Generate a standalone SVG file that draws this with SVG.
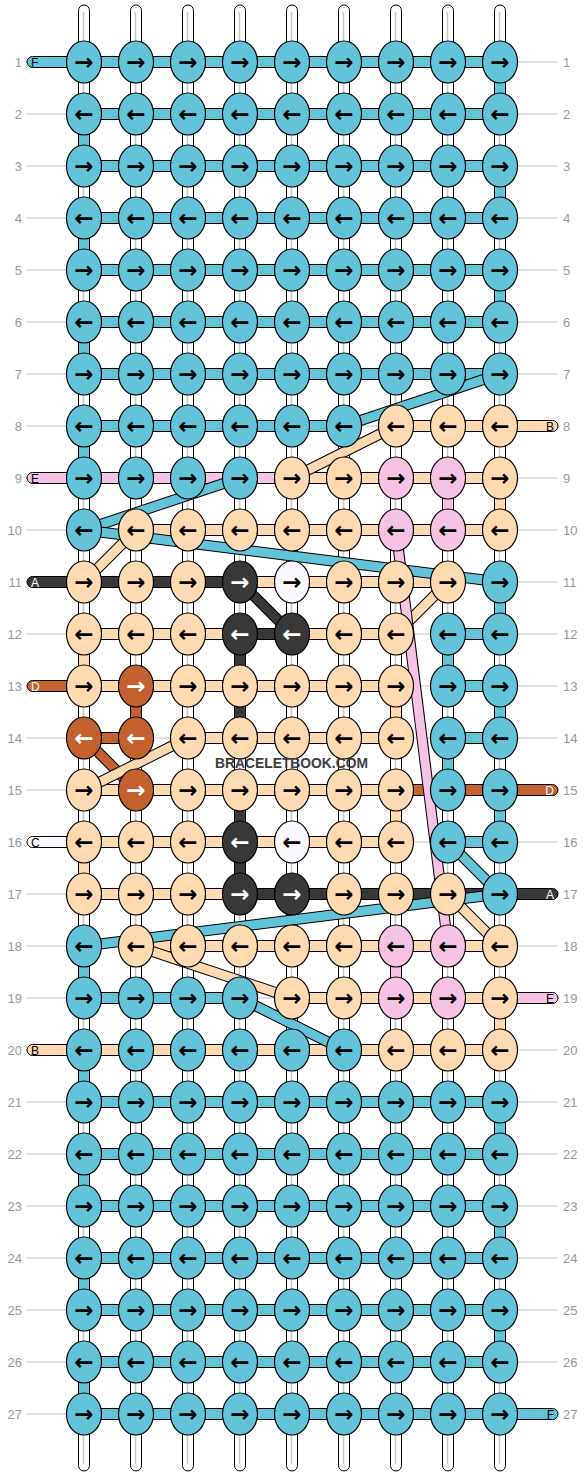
<svg xmlns="http://www.w3.org/2000/svg" width="584" height="1476" viewBox="0 0 584 1476">
<style>
.gl{stroke:#c4c4c4;stroke-width:1}
.st{fill:#fff;stroke:#000;stroke-width:1}
.sl{stroke:#c8c8c8;stroke-width:1.5}
.b{fill:#63C4D9}.p{fill:#FFDAB0}.k{fill:#F7C3E4}.d{fill:#383838}.r{fill:#C3612F}.w{fill:#FBF9FF}
.sg{stroke:#000;stroke-width:1}
ellipse{stroke:#000;stroke-width:1.2}
.ar{font-family:"DejaVu Sans",sans-serif;font-weight:bold;font-size:23px;text-anchor:middle;fill:#000}
.aw{fill:#fff}
.lb{font-family:"Liberation Sans",Arial,sans-serif;font-size:13px;fill:#999}
.le{text-anchor:end}
.lt{font-family:"Liberation Sans",Arial,sans-serif;font-size:12px;fill:#000}
.lw{fill:#fff}
.bo{stroke:#000;stroke-width:11;fill:none}
.sb{stroke:#63C4D9;stroke-width:9}.sp{stroke:#FFDAB0;stroke-width:9}.sk{stroke:#F7C3E4;stroke-width:9}.sd{stroke:#383838;stroke-width:9}.sr{stroke:#C3612F;stroke-width:9}
.wm{font-family:"Liberation Sans",Arial,sans-serif;font-weight:bold;font-size:15px;fill:#3d3d3d}
</style>
<g id="guides">
<line x1="26" y1="62" x2="558" y2="62" class="gl"/><line x1="26" y1="114" x2="558" y2="114" class="gl"/><line x1="26" y1="166" x2="558" y2="166" class="gl"/><line x1="26" y1="218" x2="558" y2="218" class="gl"/><line x1="26" y1="270" x2="558" y2="270" class="gl"/><line x1="26" y1="322" x2="558" y2="322" class="gl"/><line x1="26" y1="374" x2="558" y2="374" class="gl"/><line x1="26" y1="426" x2="558" y2="426" class="gl"/><line x1="26" y1="478" x2="558" y2="478" class="gl"/><line x1="26" y1="530" x2="558" y2="530" class="gl"/><line x1="26" y1="582" x2="558" y2="582" class="gl"/><line x1="26" y1="634" x2="558" y2="634" class="gl"/><line x1="26" y1="686" x2="558" y2="686" class="gl"/><line x1="26" y1="738" x2="558" y2="738" class="gl"/><line x1="26" y1="790" x2="558" y2="790" class="gl"/><line x1="26" y1="842" x2="558" y2="842" class="gl"/><line x1="26" y1="894" x2="558" y2="894" class="gl"/><line x1="26" y1="946" x2="558" y2="946" class="gl"/><line x1="26" y1="998" x2="558" y2="998" class="gl"/><line x1="26" y1="1050" x2="558" y2="1050" class="gl"/><line x1="26" y1="1102" x2="558" y2="1102" class="gl"/><line x1="26" y1="1154" x2="558" y2="1154" class="gl"/><line x1="26" y1="1206" x2="558" y2="1206" class="gl"/><line x1="26" y1="1258" x2="558" y2="1258" class="gl"/><line x1="26" y1="1310" x2="558" y2="1310" class="gl"/><line x1="26" y1="1362" x2="558" y2="1362" class="gl"/><line x1="26" y1="1414" x2="558" y2="1414" class="gl"/>
</g>
<g id="labels">
<text x="22" y="66.5" class="lb le">1</text><text x="22" y="118.5" class="lb le">2</text><text x="22" y="170.5" class="lb le">3</text><text x="22" y="222.5" class="lb le">4</text><text x="22" y="274.5" class="lb le">5</text><text x="22" y="326.5" class="lb le">6</text><text x="22" y="378.5" class="lb le">7</text><text x="22" y="430.5" class="lb le">8</text><text x="22" y="482.5" class="lb le">9</text><text x="22" y="534.5" class="lb le">10</text><text x="22" y="586.5" class="lb le">11</text><text x="22" y="638.5" class="lb le">12</text><text x="22" y="690.5" class="lb le">13</text><text x="22" y="742.5" class="lb le">14</text><text x="22" y="794.5" class="lb le">15</text><text x="22" y="846.5" class="lb le">16</text><text x="22" y="898.5" class="lb le">17</text><text x="22" y="950.5" class="lb le">18</text><text x="22" y="1002.5" class="lb le">19</text><text x="22" y="1054.5" class="lb le">20</text><text x="22" y="1106.5" class="lb le">21</text><text x="22" y="1158.5" class="lb le">22</text><text x="22" y="1210.5" class="lb le">23</text><text x="22" y="1262.5" class="lb le">24</text><text x="22" y="1314.5" class="lb le">25</text><text x="22" y="1366.5" class="lb le">26</text><text x="22" y="1418.5" class="lb le">27</text>
<text x="563" y="66.5" class="lb">1</text><text x="563" y="118.5" class="lb">2</text><text x="563" y="170.5" class="lb">3</text><text x="563" y="222.5" class="lb">4</text><text x="563" y="274.5" class="lb">5</text><text x="563" y="326.5" class="lb">6</text><text x="563" y="378.5" class="lb">7</text><text x="563" y="430.5" class="lb">8</text><text x="563" y="482.5" class="lb">9</text><text x="563" y="534.5" class="lb">10</text><text x="563" y="586.5" class="lb">11</text><text x="563" y="638.5" class="lb">12</text><text x="563" y="690.5" class="lb">13</text><text x="563" y="742.5" class="lb">14</text><text x="563" y="794.5" class="lb">15</text><text x="563" y="846.5" class="lb">16</text><text x="563" y="898.5" class="lb">17</text><text x="563" y="950.5" class="lb">18</text><text x="563" y="1002.5" class="lb">19</text><text x="563" y="1054.5" class="lb">20</text><text x="563" y="1106.5" class="lb">21</text><text x="563" y="1158.5" class="lb">22</text><text x="563" y="1210.5" class="lb">23</text><text x="563" y="1262.5" class="lb">24</text><text x="563" y="1314.5" class="lb">25</text><text x="563" y="1366.5" class="lb">26</text><text x="563" y="1418.5" class="lb">27</text>
</g>
<g id="connectors">
<g id="strands">
<rect x="78.5" y="5" width="11" height="1466" rx="5.5" class="st"/><rect x="130.5" y="5" width="11" height="1466" rx="5.5" class="st"/><rect x="182.5" y="5" width="11" height="1466" rx="5.5" class="st"/><rect x="234.5" y="5" width="11" height="1466" rx="5.5" class="st"/><rect x="286.5" y="5" width="11" height="1466" rx="5.5" class="st"/><rect x="338.5" y="5" width="11" height="1466" rx="5.5" class="st"/><rect x="390.5" y="5" width="11" height="1466" rx="5.5" class="st"/><rect x="442.5" y="5" width="11" height="1466" rx="5.5" class="st"/><rect x="494.5" y="5" width="11" height="1466" rx="5.5" class="st"/>
<line x1="83.5" y1="12" x2="83.5" y2="1464" class="sl"/><line x1="135.5" y1="12" x2="135.5" y2="1464" class="sl"/><line x1="187.5" y1="12" x2="187.5" y2="1464" class="sl"/><line x1="239.5" y1="12" x2="239.5" y2="1464" class="sl"/><line x1="291.5" y1="12" x2="291.5" y2="1464" class="sl"/><line x1="343.5" y1="12" x2="343.5" y2="1464" class="sl"/><line x1="395.5" y1="12" x2="395.5" y2="1464" class="sl"/><line x1="447.5" y1="12" x2="447.5" y2="1464" class="sl"/><line x1="499.5" y1="12" x2="499.5" y2="1464" class="sl"/>
</g>
<g id="verticals">
<rect x="494.5" y="62" width="11" height="52" class="b sg"/><rect x="494.5" y="166" width="11" height="52" class="b sg"/><rect x="494.5" y="270" width="11" height="52" class="b sg"/>
<rect x="78.5" y="114" width="11" height="52" class="b sg"/><rect x="78.5" y="218" width="11" height="52" class="b sg"/><rect x="78.5" y="322" width="11" height="52" class="b sg"/><rect x="78.5" y="426" width="11" height="52" class="b sg"/>
<rect x="494.5" y="582" width="11" height="52" class="b sg"/><rect x="442.5" y="634" width="11" height="52" class="b sg"/><rect x="494.5" y="686" width="11" height="52" class="b sg"/><rect x="442.5" y="738" width="11" height="52" class="b sg"/><rect x="494.5" y="790" width="11" height="52" class="b sg"/>
<rect x="78.5" y="946" width="11" height="52" class="b sg"/><rect x="78.5" y="1050" width="11" height="52" class="b sg"/>
<rect x="494.5" y="1102" width="11" height="52" class="b sg"/><rect x="78.5" y="1154" width="11" height="52" class="b sg"/><rect x="494.5" y="1206" width="11" height="52" class="b sg"/><rect x="78.5" y="1258" width="11" height="52" class="b sg"/><rect x="494.5" y="1310" width="11" height="52" class="b sg"/><rect x="78.5" y="1362" width="11" height="52" class="b sg"/>
<rect x="494.5" y="478" width="11" height="52" class="p sg"/><rect x="78.5" y="634" width="11" height="52" class="p sg"/><rect x="390.5" y="686" width="11" height="52" class="p sg"/><rect x="390.5" y="790" width="11" height="52" class="p sg"/><rect x="78.5" y="842" width="11" height="52" class="p sg"/><rect x="494.5" y="998" width="11" height="52" class="p sg"/>
<rect x="442.5" y="478" width="11" height="52" class="k sg"/><rect x="390.5" y="946" width="11" height="52" class="k sg"/>
<rect x="234.5" y="634" width="11" height="52" class="d sg"/><rect x="234.5" y="686" width="11" height="52" class="d sg"/><rect x="234.5" y="790" width="11" height="52" class="d sg"/><rect x="234.5" y="842" width="11" height="52" class="d sg"/>
<rect x="130.5" y="686" width="11" height="52" class="r sg"/>
</g>
<g id="horizontals">
<rect x="27" y="56.5" width="70" height="11" rx="5.5" class="b sg"/>
<rect x="84" y="56.5" width="52" height="11" class="b sg"/><rect x="136" y="56.5" width="52" height="11" class="b sg"/><rect x="188" y="56.5" width="52" height="11" class="b sg"/><rect x="240" y="56.5" width="52" height="11" class="b sg"/><rect x="292" y="56.5" width="52" height="11" class="b sg"/><rect x="344" y="56.5" width="52" height="11" class="b sg"/><rect x="396" y="56.5" width="52" height="11" class="b sg"/><rect x="448" y="56.5" width="52" height="11" class="b sg"/>
<rect x="84" y="108.5" width="52" height="11" class="b sg"/><rect x="136" y="108.5" width="52" height="11" class="b sg"/><rect x="188" y="108.5" width="52" height="11" class="b sg"/><rect x="240" y="108.5" width="52" height="11" class="b sg"/><rect x="292" y="108.5" width="52" height="11" class="b sg"/><rect x="344" y="108.5" width="52" height="11" class="b sg"/><rect x="396" y="108.5" width="52" height="11" class="b sg"/><rect x="448" y="108.5" width="52" height="11" class="b sg"/>
<rect x="84" y="160.5" width="52" height="11" class="b sg"/><rect x="136" y="160.5" width="52" height="11" class="b sg"/><rect x="188" y="160.5" width="52" height="11" class="b sg"/><rect x="240" y="160.5" width="52" height="11" class="b sg"/><rect x="292" y="160.5" width="52" height="11" class="b sg"/><rect x="344" y="160.5" width="52" height="11" class="b sg"/><rect x="396" y="160.5" width="52" height="11" class="b sg"/><rect x="448" y="160.5" width="52" height="11" class="b sg"/>
<rect x="84" y="212.5" width="52" height="11" class="b sg"/><rect x="136" y="212.5" width="52" height="11" class="b sg"/><rect x="188" y="212.5" width="52" height="11" class="b sg"/><rect x="240" y="212.5" width="52" height="11" class="b sg"/><rect x="292" y="212.5" width="52" height="11" class="b sg"/><rect x="344" y="212.5" width="52" height="11" class="b sg"/><rect x="396" y="212.5" width="52" height="11" class="b sg"/><rect x="448" y="212.5" width="52" height="11" class="b sg"/>
<rect x="84" y="264.5" width="52" height="11" class="b sg"/><rect x="136" y="264.5" width="52" height="11" class="b sg"/><rect x="188" y="264.5" width="52" height="11" class="b sg"/><rect x="240" y="264.5" width="52" height="11" class="b sg"/><rect x="292" y="264.5" width="52" height="11" class="b sg"/><rect x="344" y="264.5" width="52" height="11" class="b sg"/><rect x="396" y="264.5" width="52" height="11" class="b sg"/><rect x="448" y="264.5" width="52" height="11" class="b sg"/>
<rect x="84" y="316.5" width="52" height="11" class="b sg"/><rect x="136" y="316.5" width="52" height="11" class="b sg"/><rect x="188" y="316.5" width="52" height="11" class="b sg"/><rect x="240" y="316.5" width="52" height="11" class="b sg"/><rect x="292" y="316.5" width="52" height="11" class="b sg"/><rect x="344" y="316.5" width="52" height="11" class="b sg"/><rect x="396" y="316.5" width="52" height="11" class="b sg"/><rect x="448" y="316.5" width="52" height="11" class="b sg"/>
<rect x="84" y="368.5" width="52" height="11" class="b sg"/><rect x="136" y="368.5" width="52" height="11" class="b sg"/><rect x="188" y="368.5" width="52" height="11" class="b sg"/><rect x="240" y="368.5" width="52" height="11" class="b sg"/><rect x="292" y="368.5" width="52" height="11" class="b sg"/><rect x="344" y="368.5" width="52" height="11" class="b sg"/><rect x="396" y="368.5" width="52" height="11" class="b sg"/><rect x="448" y="368.5" width="52" height="11" class="b sg"/>
<rect x="84" y="420.5" width="52" height="11" class="b sg"/><rect x="136" y="420.5" width="52" height="11" class="b sg"/><rect x="188" y="420.5" width="52" height="11" class="b sg"/><rect x="240" y="420.5" width="52" height="11" class="b sg"/><rect x="292" y="420.5" width="52" height="11" class="b sg"/><rect x="396" y="420.5" width="52" height="11" class="p sg"/><rect x="448" y="420.5" width="52" height="11" class="p sg"/><rect x="487" y="420.5" width="71" height="11" rx="5.5" class="p sg"/>
<rect x="27" y="472.5" width="70" height="11" rx="5.5" class="k sg"/><rect x="84" y="472.5" width="52" height="11" class="k sg"/><rect x="136" y="472.5" width="52" height="11" class="k sg"/><rect x="188" y="472.5" width="52" height="11" class="k sg"/><rect x="240" y="472.5" width="52" height="11" class="k sg"/><rect x="292" y="472.5" width="52" height="11" class="p sg"/><rect x="344" y="472.5" width="52" height="11" class="p sg"/><rect x="396" y="472.5" width="52" height="11" class="p sg"/><rect x="448" y="472.5" width="52" height="11" class="p sg"/>
<rect x="136" y="524.5" width="52" height="11" class="p sg"/><rect x="188" y="524.5" width="52" height="11" class="p sg"/><rect x="240" y="524.5" width="52" height="11" class="p sg"/><rect x="292" y="524.5" width="52" height="11" class="p sg"/><rect x="344" y="524.5" width="52" height="11" class="p sg"/><rect x="396" y="524.5" width="52" height="11" class="p sg"/><rect x="448" y="524.5" width="52" height="11" class="p sg"/>
<rect x="27" y="576.5" width="70" height="11" rx="5.5" class="d sg"/><rect x="84" y="576.5" width="52" height="11" class="d sg"/><rect x="136" y="576.5" width="52" height="11" class="d sg"/><rect x="188" y="576.5" width="52" height="11" class="d sg"/><rect x="240" y="576.5" width="52" height="11" class="p sg"/><rect x="292" y="576.5" width="52" height="11" class="p sg"/><rect x="344" y="576.5" width="52" height="11" class="p sg"/><rect x="396" y="576.5" width="52" height="11" class="p sg"/>
<rect x="84" y="628.5" width="52" height="11" class="p sg"/><rect x="136" y="628.5" width="52" height="11" class="p sg"/><rect x="188" y="628.5" width="52" height="11" class="p sg"/><rect x="240" y="628.5" width="52" height="11" class="d sg"/><rect x="292" y="628.5" width="52" height="11" class="p sg"/><rect x="344" y="628.5" width="52" height="11" class="p sg"/><rect x="448" y="628.5" width="52" height="11" class="b sg"/>
<rect x="27" y="680.5" width="70" height="11" rx="5.5" class="r sg"/><rect x="84" y="680.5" width="52" height="11" class="p sg"/><rect x="136" y="680.5" width="52" height="11" class="p sg"/><rect x="188" y="680.5" width="52" height="11" class="p sg"/><rect x="240" y="680.5" width="52" height="11" class="p sg"/><rect x="292" y="680.5" width="52" height="11" class="p sg"/><rect x="344" y="680.5" width="52" height="11" class="p sg"/><rect x="448" y="680.5" width="52" height="11" class="b sg"/>
<rect x="84" y="732.5" width="52" height="11" class="r sg"/><rect x="188" y="732.5" width="52" height="11" class="p sg"/><rect x="240" y="732.5" width="52" height="11" class="p sg"/><rect x="292" y="732.5" width="52" height="11" class="p sg"/><rect x="344" y="732.5" width="52" height="11" class="p sg"/><rect x="448" y="732.5" width="52" height="11" class="b sg"/>
<rect x="84" y="784.5" width="52" height="11" class="p sg"/><rect x="136" y="784.5" width="52" height="11" class="p sg"/><rect x="188" y="784.5" width="52" height="11" class="p sg"/><rect x="240" y="784.5" width="52" height="11" class="p sg"/><rect x="292" y="784.5" width="52" height="11" class="p sg"/><rect x="344" y="784.5" width="52" height="11" class="p sg"/><rect x="396" y="784.5" width="52" height="11" class="r sg"/><rect x="448" y="784.5" width="52" height="11" class="r sg"/><rect x="487" y="784.5" width="71" height="11" rx="5.5" class="r sg"/>
<rect x="27" y="836.5" width="70" height="11" rx="5.5" class="w sg"/><rect x="84" y="836.5" width="52" height="11" class="p sg"/><rect x="136" y="836.5" width="52" height="11" class="p sg"/><rect x="188" y="836.5" width="52" height="11" class="p sg"/><rect x="240" y="836.5" width="52" height="11" class="p sg"/><rect x="292" y="836.5" width="52" height="11" class="p sg"/><rect x="344" y="836.5" width="52" height="11" class="p sg"/><rect x="448" y="836.5" width="52" height="11" class="b sg"/>
<rect x="84" y="888.5" width="52" height="11" class="p sg"/><rect x="136" y="888.5" width="52" height="11" class="p sg"/><rect x="188" y="888.5" width="52" height="11" class="p sg"/><rect x="240" y="888.5" width="52" height="11" class="d sg"/><rect x="292" y="888.5" width="52" height="11" class="d sg"/><rect x="344" y="888.5" width="52" height="11" class="d sg"/><rect x="396" y="888.5" width="52" height="11" class="d sg"/><rect x="448" y="888.5" width="52" height="11" class="d sg"/><rect x="487" y="888.5" width="71" height="11" rx="5.5" class="d sg"/>
<rect x="136" y="940.5" width="52" height="11" class="p sg"/><rect x="188" y="940.5" width="52" height="11" class="p sg"/><rect x="240" y="940.5" width="52" height="11" class="p sg"/><rect x="292" y="940.5" width="52" height="11" class="p sg"/><rect x="344" y="940.5" width="52" height="11" class="p sg"/><rect x="396" y="940.5" width="52" height="11" class="p sg"/><rect x="448" y="940.5" width="52" height="11" class="p sg"/>
<rect x="84" y="992.5" width="52" height="11" class="b sg"/><rect x="136" y="992.5" width="52" height="11" class="b sg"/><rect x="188" y="992.5" width="52" height="11" class="b sg"/><rect x="292" y="992.5" width="52" height="11" class="p sg"/><rect x="344" y="992.5" width="52" height="11" class="p sg"/><rect x="396" y="992.5" width="52" height="11" class="p sg"/><rect x="448" y="992.5" width="52" height="11" class="p sg"/><rect x="487" y="992.5" width="71" height="11" rx="5.5" class="k sg"/>
<rect x="27" y="1044.5" width="70" height="11" rx="5.5" class="p sg"/><rect x="84" y="1044.5" width="52" height="11" class="p sg"/><rect x="136" y="1044.5" width="52" height="11" class="p sg"/><rect x="188" y="1044.5" width="52" height="11" class="p sg"/><rect x="240" y="1044.5" width="52" height="11" class="p sg"/><rect x="292" y="1044.5" width="52" height="11" class="p sg"/><rect x="344" y="1044.5" width="52" height="11" class="p sg"/><rect x="396" y="1044.5" width="52" height="11" class="p sg"/><rect x="448" y="1044.5" width="52" height="11" class="p sg"/>
<rect x="84" y="1096.5" width="52" height="11" class="b sg"/><rect x="136" y="1096.5" width="52" height="11" class="b sg"/><rect x="188" y="1096.5" width="52" height="11" class="b sg"/><rect x="240" y="1096.5" width="52" height="11" class="b sg"/><rect x="292" y="1096.5" width="52" height="11" class="b sg"/><rect x="344" y="1096.5" width="52" height="11" class="b sg"/><rect x="396" y="1096.5" width="52" height="11" class="b sg"/><rect x="448" y="1096.5" width="52" height="11" class="b sg"/>
<rect x="84" y="1148.5" width="52" height="11" class="b sg"/><rect x="136" y="1148.5" width="52" height="11" class="b sg"/><rect x="188" y="1148.5" width="52" height="11" class="b sg"/><rect x="240" y="1148.5" width="52" height="11" class="b sg"/><rect x="292" y="1148.5" width="52" height="11" class="b sg"/><rect x="344" y="1148.5" width="52" height="11" class="b sg"/><rect x="396" y="1148.5" width="52" height="11" class="b sg"/><rect x="448" y="1148.5" width="52" height="11" class="b sg"/>
<rect x="84" y="1200.5" width="52" height="11" class="b sg"/><rect x="136" y="1200.5" width="52" height="11" class="b sg"/><rect x="188" y="1200.5" width="52" height="11" class="b sg"/><rect x="240" y="1200.5" width="52" height="11" class="b sg"/><rect x="292" y="1200.5" width="52" height="11" class="b sg"/><rect x="344" y="1200.5" width="52" height="11" class="b sg"/><rect x="396" y="1200.5" width="52" height="11" class="b sg"/><rect x="448" y="1200.5" width="52" height="11" class="b sg"/>
<rect x="84" y="1252.5" width="52" height="11" class="b sg"/><rect x="136" y="1252.5" width="52" height="11" class="b sg"/><rect x="188" y="1252.5" width="52" height="11" class="b sg"/><rect x="240" y="1252.5" width="52" height="11" class="b sg"/><rect x="292" y="1252.5" width="52" height="11" class="b sg"/><rect x="344" y="1252.5" width="52" height="11" class="b sg"/><rect x="396" y="1252.5" width="52" height="11" class="b sg"/><rect x="448" y="1252.5" width="52" height="11" class="b sg"/>
<rect x="84" y="1304.5" width="52" height="11" class="b sg"/><rect x="136" y="1304.5" width="52" height="11" class="b sg"/><rect x="188" y="1304.5" width="52" height="11" class="b sg"/><rect x="240" y="1304.5" width="52" height="11" class="b sg"/><rect x="292" y="1304.5" width="52" height="11" class="b sg"/><rect x="344" y="1304.5" width="52" height="11" class="b sg"/><rect x="396" y="1304.5" width="52" height="11" class="b sg"/><rect x="448" y="1304.5" width="52" height="11" class="b sg"/>
<rect x="84" y="1356.5" width="52" height="11" class="b sg"/><rect x="136" y="1356.5" width="52" height="11" class="b sg"/><rect x="188" y="1356.5" width="52" height="11" class="b sg"/><rect x="240" y="1356.5" width="52" height="11" class="b sg"/><rect x="292" y="1356.5" width="52" height="11" class="b sg"/><rect x="344" y="1356.5" width="52" height="11" class="b sg"/><rect x="396" y="1356.5" width="52" height="11" class="b sg"/><rect x="448" y="1356.5" width="52" height="11" class="b sg"/>
<rect x="84" y="1408.5" width="52" height="11" class="b sg"/><rect x="136" y="1408.5" width="52" height="11" class="b sg"/><rect x="188" y="1408.5" width="52" height="11" class="b sg"/><rect x="240" y="1408.5" width="52" height="11" class="b sg"/><rect x="292" y="1408.5" width="52" height="11" class="b sg"/><rect x="344" y="1408.5" width="52" height="11" class="b sg"/><rect x="396" y="1408.5" width="52" height="11" class="b sg"/><rect x="448" y="1408.5" width="52" height="11" class="b sg"/><rect x="487" y="1408.5" width="71" height="11" rx="5.5" class="b sg"/>
</g>
<g id="diagonals">
<line x1="500" y1="374" x2="344" y2="426" class="bo"/><line x1="500" y1="374" x2="344" y2="426" class="sb"/>
<line x1="396" y1="426" x2="292" y2="478" class="bo"/><line x1="396" y1="426" x2="292" y2="478" class="sp"/>
<line x1="240" y1="478" x2="84" y2="530" class="bo"/><line x1="240" y1="478" x2="84" y2="530" class="sb"/>
<line x1="136" y1="530" x2="84" y2="582" class="bo"/><line x1="136" y1="530" x2="84" y2="582" class="sp"/>
<line x1="84" y1="530" x2="500" y2="582" class="bo"/><line x1="84" y1="530" x2="500" y2="582" class="sb"/>
<line x1="448" y1="582" x2="396" y2="634" class="bo"/><line x1="448" y1="582" x2="396" y2="634" class="sp"/>
<line x1="240" y1="582" x2="292" y2="634" class="bo"/><line x1="240" y1="582" x2="292" y2="634" class="sd"/>
<line x1="84" y1="738" x2="136" y2="790" class="bo"/><line x1="84" y1="738" x2="136" y2="790" class="sr"/>
<line x1="188" y1="738" x2="84" y2="790" class="bo"/><line x1="188" y1="738" x2="84" y2="790" class="sp"/>
<line x1="448" y1="842" x2="500" y2="894" class="bo"/><line x1="448" y1="842" x2="500" y2="894" class="sb"/>
<line x1="448" y1="894" x2="500" y2="946" class="bo"/><line x1="448" y1="894" x2="500" y2="946" class="sp"/>
<line x1="500" y1="894" x2="84" y2="946" class="bo"/><line x1="500" y1="894" x2="84" y2="946" class="sb"/>
<line x1="396" y1="530" x2="448" y2="946" class="bo"/><line x1="396" y1="530" x2="448" y2="946" class="sk"/>
<line x1="136" y1="946" x2="292" y2="998" class="bo"/><line x1="136" y1="946" x2="292" y2="998" class="sp"/>
<line x1="240" y1="998" x2="344" y2="1050" class="bo"/><line x1="240" y1="998" x2="344" y2="1050" class="sb"/>
</g>
</g>
<g id="ends">
<text x="31" y="66.5" class="lt">F</text><text x="31" y="482.5" class="lt">E</text><text x="31" y="586.5" class="lt lw">A</text><text x="31" y="690.5" class="lt lw">D</text><text x="31" y="846.5" class="lt">C</text><text x="31" y="1054.5" class="lt">B</text>
<text x="554" y="430.5" class="lt le">B</text><text x="554" y="794.5" class="lt le lw">D</text><text x="554" y="898.5" class="lt le lw">A</text><text x="554" y="1002.5" class="lt le">E</text><text x="554" y="1418.5" class="lt le">F</text>
</g>
<g id="nodes">
<g id="n1-1"><ellipse cx="84" cy="62" rx="17.5" ry="21" class="b"/><text x="84" y="70" class="ar">→</text></g>
<g id="n1-2"><ellipse cx="136" cy="62" rx="17.5" ry="21" class="b"/><text x="136" y="70" class="ar">→</text></g>
<g id="n1-3"><ellipse cx="188" cy="62" rx="17.5" ry="21" class="b"/><text x="188" y="70" class="ar">→</text></g>
<g id="n1-4"><ellipse cx="240" cy="62" rx="17.5" ry="21" class="b"/><text x="240" y="70" class="ar">→</text></g>
<g id="n1-5"><ellipse cx="292" cy="62" rx="17.5" ry="21" class="b"/><text x="292" y="70" class="ar">→</text></g>
<g id="n1-6"><ellipse cx="344" cy="62" rx="17.5" ry="21" class="b"/><text x="344" y="70" class="ar">→</text></g>
<g id="n1-7"><ellipse cx="396" cy="62" rx="17.5" ry="21" class="b"/><text x="396" y="70" class="ar">→</text></g>
<g id="n1-8"><ellipse cx="448" cy="62" rx="17.5" ry="21" class="b"/><text x="448" y="70" class="ar">→</text></g>
<g id="n1-9"><ellipse cx="500" cy="62" rx="17.5" ry="21" class="b"/><text x="500" y="70" class="ar">→</text></g>
<g id="n2-1"><ellipse cx="84" cy="114" rx="17.5" ry="21" class="b"/><text x="84" y="122" class="ar">←</text></g>
<g id="n2-2"><ellipse cx="136" cy="114" rx="17.5" ry="21" class="b"/><text x="136" y="122" class="ar">←</text></g>
<g id="n2-3"><ellipse cx="188" cy="114" rx="17.5" ry="21" class="b"/><text x="188" y="122" class="ar">←</text></g>
<g id="n2-4"><ellipse cx="240" cy="114" rx="17.5" ry="21" class="b"/><text x="240" y="122" class="ar">←</text></g>
<g id="n2-5"><ellipse cx="292" cy="114" rx="17.5" ry="21" class="b"/><text x="292" y="122" class="ar">←</text></g>
<g id="n2-6"><ellipse cx="344" cy="114" rx="17.5" ry="21" class="b"/><text x="344" y="122" class="ar">←</text></g>
<g id="n2-7"><ellipse cx="396" cy="114" rx="17.5" ry="21" class="b"/><text x="396" y="122" class="ar">←</text></g>
<g id="n2-8"><ellipse cx="448" cy="114" rx="17.5" ry="21" class="b"/><text x="448" y="122" class="ar">←</text></g>
<g id="n2-9"><ellipse cx="500" cy="114" rx="17.5" ry="21" class="b"/><text x="500" y="122" class="ar">←</text></g>
<g id="n3-1"><ellipse cx="84" cy="166" rx="17.5" ry="21" class="b"/><text x="84" y="174" class="ar">→</text></g>
<g id="n3-2"><ellipse cx="136" cy="166" rx="17.5" ry="21" class="b"/><text x="136" y="174" class="ar">→</text></g>
<g id="n3-3"><ellipse cx="188" cy="166" rx="17.5" ry="21" class="b"/><text x="188" y="174" class="ar">→</text></g>
<g id="n3-4"><ellipse cx="240" cy="166" rx="17.5" ry="21" class="b"/><text x="240" y="174" class="ar">→</text></g>
<g id="n3-5"><ellipse cx="292" cy="166" rx="17.5" ry="21" class="b"/><text x="292" y="174" class="ar">→</text></g>
<g id="n3-6"><ellipse cx="344" cy="166" rx="17.5" ry="21" class="b"/><text x="344" y="174" class="ar">→</text></g>
<g id="n3-7"><ellipse cx="396" cy="166" rx="17.5" ry="21" class="b"/><text x="396" y="174" class="ar">→</text></g>
<g id="n3-8"><ellipse cx="448" cy="166" rx="17.5" ry="21" class="b"/><text x="448" y="174" class="ar">→</text></g>
<g id="n3-9"><ellipse cx="500" cy="166" rx="17.5" ry="21" class="b"/><text x="500" y="174" class="ar">→</text></g>
<g id="n4-1"><ellipse cx="84" cy="218" rx="17.5" ry="21" class="b"/><text x="84" y="226" class="ar">←</text></g>
<g id="n4-2"><ellipse cx="136" cy="218" rx="17.5" ry="21" class="b"/><text x="136" y="226" class="ar">←</text></g>
<g id="n4-3"><ellipse cx="188" cy="218" rx="17.5" ry="21" class="b"/><text x="188" y="226" class="ar">←</text></g>
<g id="n4-4"><ellipse cx="240" cy="218" rx="17.5" ry="21" class="b"/><text x="240" y="226" class="ar">←</text></g>
<g id="n4-5"><ellipse cx="292" cy="218" rx="17.5" ry="21" class="b"/><text x="292" y="226" class="ar">←</text></g>
<g id="n4-6"><ellipse cx="344" cy="218" rx="17.5" ry="21" class="b"/><text x="344" y="226" class="ar">←</text></g>
<g id="n4-7"><ellipse cx="396" cy="218" rx="17.5" ry="21" class="b"/><text x="396" y="226" class="ar">←</text></g>
<g id="n4-8"><ellipse cx="448" cy="218" rx="17.5" ry="21" class="b"/><text x="448" y="226" class="ar">←</text></g>
<g id="n4-9"><ellipse cx="500" cy="218" rx="17.5" ry="21" class="b"/><text x="500" y="226" class="ar">←</text></g>
<g id="n5-1"><ellipse cx="84" cy="270" rx="17.5" ry="21" class="b"/><text x="84" y="278" class="ar">→</text></g>
<g id="n5-2"><ellipse cx="136" cy="270" rx="17.5" ry="21" class="b"/><text x="136" y="278" class="ar">→</text></g>
<g id="n5-3"><ellipse cx="188" cy="270" rx="17.5" ry="21" class="b"/><text x="188" y="278" class="ar">→</text></g>
<g id="n5-4"><ellipse cx="240" cy="270" rx="17.5" ry="21" class="b"/><text x="240" y="278" class="ar">→</text></g>
<g id="n5-5"><ellipse cx="292" cy="270" rx="17.5" ry="21" class="b"/><text x="292" y="278" class="ar">→</text></g>
<g id="n5-6"><ellipse cx="344" cy="270" rx="17.5" ry="21" class="b"/><text x="344" y="278" class="ar">→</text></g>
<g id="n5-7"><ellipse cx="396" cy="270" rx="17.5" ry="21" class="b"/><text x="396" y="278" class="ar">→</text></g>
<g id="n5-8"><ellipse cx="448" cy="270" rx="17.5" ry="21" class="b"/><text x="448" y="278" class="ar">→</text></g>
<g id="n5-9"><ellipse cx="500" cy="270" rx="17.5" ry="21" class="b"/><text x="500" y="278" class="ar">→</text></g>
<g id="n6-1"><ellipse cx="84" cy="322" rx="17.5" ry="21" class="b"/><text x="84" y="330" class="ar">←</text></g>
<g id="n6-2"><ellipse cx="136" cy="322" rx="17.5" ry="21" class="b"/><text x="136" y="330" class="ar">←</text></g>
<g id="n6-3"><ellipse cx="188" cy="322" rx="17.5" ry="21" class="b"/><text x="188" y="330" class="ar">←</text></g>
<g id="n6-4"><ellipse cx="240" cy="322" rx="17.5" ry="21" class="b"/><text x="240" y="330" class="ar">←</text></g>
<g id="n6-5"><ellipse cx="292" cy="322" rx="17.5" ry="21" class="b"/><text x="292" y="330" class="ar">←</text></g>
<g id="n6-6"><ellipse cx="344" cy="322" rx="17.5" ry="21" class="b"/><text x="344" y="330" class="ar">←</text></g>
<g id="n6-7"><ellipse cx="396" cy="322" rx="17.5" ry="21" class="b"/><text x="396" y="330" class="ar">←</text></g>
<g id="n6-8"><ellipse cx="448" cy="322" rx="17.5" ry="21" class="b"/><text x="448" y="330" class="ar">←</text></g>
<g id="n6-9"><ellipse cx="500" cy="322" rx="17.5" ry="21" class="b"/><text x="500" y="330" class="ar">←</text></g>
<g id="n7-1"><ellipse cx="84" cy="374" rx="17.5" ry="21" class="b"/><text x="84" y="382" class="ar">→</text></g>
<g id="n7-2"><ellipse cx="136" cy="374" rx="17.5" ry="21" class="b"/><text x="136" y="382" class="ar">→</text></g>
<g id="n7-3"><ellipse cx="188" cy="374" rx="17.5" ry="21" class="b"/><text x="188" y="382" class="ar">→</text></g>
<g id="n7-4"><ellipse cx="240" cy="374" rx="17.5" ry="21" class="b"/><text x="240" y="382" class="ar">→</text></g>
<g id="n7-5"><ellipse cx="292" cy="374" rx="17.5" ry="21" class="b"/><text x="292" y="382" class="ar">→</text></g>
<g id="n7-6"><ellipse cx="344" cy="374" rx="17.5" ry="21" class="b"/><text x="344" y="382" class="ar">→</text></g>
<g id="n7-7"><ellipse cx="396" cy="374" rx="17.5" ry="21" class="b"/><text x="396" y="382" class="ar">→</text></g>
<g id="n7-8"><ellipse cx="448" cy="374" rx="17.5" ry="21" class="b"/><text x="448" y="382" class="ar">→</text></g>
<g id="n7-9"><ellipse cx="500" cy="374" rx="17.5" ry="21" class="b"/><text x="500" y="382" class="ar">→</text></g>
<g id="n8-1"><ellipse cx="84" cy="426" rx="17.5" ry="21" class="b"/><text x="84" y="434" class="ar">←</text></g>
<g id="n8-2"><ellipse cx="136" cy="426" rx="17.5" ry="21" class="b"/><text x="136" y="434" class="ar">←</text></g>
<g id="n8-3"><ellipse cx="188" cy="426" rx="17.5" ry="21" class="b"/><text x="188" y="434" class="ar">←</text></g>
<g id="n8-4"><ellipse cx="240" cy="426" rx="17.5" ry="21" class="b"/><text x="240" y="434" class="ar">←</text></g>
<g id="n8-5"><ellipse cx="292" cy="426" rx="17.5" ry="21" class="b"/><text x="292" y="434" class="ar">←</text></g>
<g id="n8-6"><ellipse cx="344" cy="426" rx="17.5" ry="21" class="b"/><text x="344" y="434" class="ar">←</text></g>
<g id="n8-7"><ellipse cx="396" cy="426" rx="17.5" ry="21" class="p"/><text x="396" y="434" class="ar">←</text></g>
<g id="n8-8"><ellipse cx="448" cy="426" rx="17.5" ry="21" class="p"/><text x="448" y="434" class="ar">←</text></g>
<g id="n8-9"><ellipse cx="500" cy="426" rx="17.5" ry="21" class="p"/><text x="500" y="434" class="ar">←</text></g>
<g id="n9-1"><ellipse cx="84" cy="478" rx="17.5" ry="21" class="b"/><text x="84" y="486" class="ar">→</text></g>
<g id="n9-2"><ellipse cx="136" cy="478" rx="17.5" ry="21" class="b"/><text x="136" y="486" class="ar">→</text></g>
<g id="n9-3"><ellipse cx="188" cy="478" rx="17.5" ry="21" class="b"/><text x="188" y="486" class="ar">→</text></g>
<g id="n9-4"><ellipse cx="240" cy="478" rx="17.5" ry="21" class="b"/><text x="240" y="486" class="ar">→</text></g>
<g id="n9-5"><ellipse cx="292" cy="478" rx="17.5" ry="21" class="p"/><text x="292" y="486" class="ar">→</text></g>
<g id="n9-6"><ellipse cx="344" cy="478" rx="17.5" ry="21" class="p"/><text x="344" y="486" class="ar">→</text></g>
<g id="n9-7"><ellipse cx="396" cy="478" rx="17.5" ry="21" class="k"/><text x="396" y="486" class="ar">→</text></g>
<g id="n9-8"><ellipse cx="448" cy="478" rx="17.5" ry="21" class="k"/><text x="448" y="486" class="ar">→</text></g>
<g id="n9-9"><ellipse cx="500" cy="478" rx="17.5" ry="21" class="p"/><text x="500" y="486" class="ar">→</text></g>
<g id="n10-1"><ellipse cx="84" cy="530" rx="17.5" ry="21" class="b"/><text x="84" y="538" class="ar">←</text></g>
<g id="n10-2"><ellipse cx="136" cy="530" rx="17.5" ry="21" class="p"/><text x="136" y="538" class="ar">←</text></g>
<g id="n10-3"><ellipse cx="188" cy="530" rx="17.5" ry="21" class="p"/><text x="188" y="538" class="ar">←</text></g>
<g id="n10-4"><ellipse cx="240" cy="530" rx="17.5" ry="21" class="p"/><text x="240" y="538" class="ar">←</text></g>
<g id="n10-5"><ellipse cx="292" cy="530" rx="17.5" ry="21" class="p"/><text x="292" y="538" class="ar">←</text></g>
<g id="n10-6"><ellipse cx="344" cy="530" rx="17.5" ry="21" class="p"/><text x="344" y="538" class="ar">←</text></g>
<g id="n10-7"><ellipse cx="396" cy="530" rx="17.5" ry="21" class="k"/><text x="396" y="538" class="ar">←</text></g>
<g id="n10-8"><ellipse cx="448" cy="530" rx="17.5" ry="21" class="k"/><text x="448" y="538" class="ar">←</text></g>
<g id="n10-9"><ellipse cx="500" cy="530" rx="17.5" ry="21" class="p"/><text x="500" y="538" class="ar">←</text></g>
<g id="n11-1"><ellipse cx="84" cy="582" rx="17.5" ry="21" class="p"/><text x="84" y="590" class="ar">→</text></g>
<g id="n11-2"><ellipse cx="136" cy="582" rx="17.5" ry="21" class="p"/><text x="136" y="590" class="ar">→</text></g>
<g id="n11-3"><ellipse cx="188" cy="582" rx="17.5" ry="21" class="p"/><text x="188" y="590" class="ar">→</text></g>
<g id="n11-4"><ellipse cx="240" cy="582" rx="17.5" ry="21" class="d"/><text x="240" y="590" class="ar aw">→</text></g>
<g id="n11-5"><ellipse cx="292" cy="582" rx="17.5" ry="21" class="w"/><text x="292" y="590" class="ar">→</text></g>
<g id="n11-6"><ellipse cx="344" cy="582" rx="17.5" ry="21" class="p"/><text x="344" y="590" class="ar">→</text></g>
<g id="n11-7"><ellipse cx="396" cy="582" rx="17.5" ry="21" class="p"/><text x="396" y="590" class="ar">→</text></g>
<g id="n11-8"><ellipse cx="448" cy="582" rx="17.5" ry="21" class="p"/><text x="448" y="590" class="ar">→</text></g>
<g id="n11-9"><ellipse cx="500" cy="582" rx="17.5" ry="21" class="b"/><text x="500" y="590" class="ar">→</text></g>
<g id="n12-1"><ellipse cx="84" cy="634" rx="17.5" ry="21" class="p"/><text x="84" y="642" class="ar">←</text></g>
<g id="n12-2"><ellipse cx="136" cy="634" rx="17.5" ry="21" class="p"/><text x="136" y="642" class="ar">←</text></g>
<g id="n12-3"><ellipse cx="188" cy="634" rx="17.5" ry="21" class="p"/><text x="188" y="642" class="ar">←</text></g>
<g id="n12-4"><ellipse cx="240" cy="634" rx="17.5" ry="21" class="d"/><text x="240" y="642" class="ar aw">←</text></g>
<g id="n12-5"><ellipse cx="292" cy="634" rx="17.5" ry="21" class="d"/><text x="292" y="642" class="ar aw">←</text></g>
<g id="n12-6"><ellipse cx="344" cy="634" rx="17.5" ry="21" class="p"/><text x="344" y="642" class="ar">←</text></g>
<g id="n12-7"><ellipse cx="396" cy="634" rx="17.5" ry="21" class="p"/><text x="396" y="642" class="ar">←</text></g>
<g id="n12-8"><ellipse cx="448" cy="634" rx="17.5" ry="21" class="b"/><text x="448" y="642" class="ar">←</text></g>
<g id="n12-9"><ellipse cx="500" cy="634" rx="17.5" ry="21" class="b"/><text x="500" y="642" class="ar">←</text></g>
<g id="n13-1"><ellipse cx="84" cy="686" rx="17.5" ry="21" class="p"/><text x="84" y="694" class="ar">→</text></g>
<g id="n13-2"><ellipse cx="136" cy="686" rx="17.5" ry="21" class="r"/><text x="136" y="694" class="ar aw">→</text></g>
<g id="n13-3"><ellipse cx="188" cy="686" rx="17.5" ry="21" class="p"/><text x="188" y="694" class="ar">→</text></g>
<g id="n13-4"><ellipse cx="240" cy="686" rx="17.5" ry="21" class="p"/><text x="240" y="694" class="ar">→</text></g>
<g id="n13-5"><ellipse cx="292" cy="686" rx="17.5" ry="21" class="p"/><text x="292" y="694" class="ar">→</text></g>
<g id="n13-6"><ellipse cx="344" cy="686" rx="17.5" ry="21" class="p"/><text x="344" y="694" class="ar">→</text></g>
<g id="n13-7"><ellipse cx="396" cy="686" rx="17.5" ry="21" class="p"/><text x="396" y="694" class="ar">→</text></g>
<g id="n13-8"><ellipse cx="448" cy="686" rx="17.5" ry="21" class="b"/><text x="448" y="694" class="ar">→</text></g>
<g id="n13-9"><ellipse cx="500" cy="686" rx="17.5" ry="21" class="b"/><text x="500" y="694" class="ar">→</text></g>
<g id="n14-1"><ellipse cx="84" cy="738" rx="17.5" ry="21" class="r"/><text x="84" y="746" class="ar aw">←</text></g>
<g id="n14-2"><ellipse cx="136" cy="738" rx="17.5" ry="21" class="r"/><text x="136" y="746" class="ar aw">←</text></g>
<g id="n14-3"><ellipse cx="188" cy="738" rx="17.5" ry="21" class="p"/><text x="188" y="746" class="ar">←</text></g>
<g id="n14-4"><ellipse cx="240" cy="738" rx="17.5" ry="21" class="p"/><text x="240" y="746" class="ar">←</text></g>
<g id="n14-5"><ellipse cx="292" cy="738" rx="17.5" ry="21" class="p"/><text x="292" y="746" class="ar">←</text></g>
<g id="n14-6"><ellipse cx="344" cy="738" rx="17.5" ry="21" class="p"/><text x="344" y="746" class="ar">←</text></g>
<g id="n14-7"><ellipse cx="396" cy="738" rx="17.5" ry="21" class="p"/><text x="396" y="746" class="ar">←</text></g>
<g id="n14-8"><ellipse cx="448" cy="738" rx="17.5" ry="21" class="b"/><text x="448" y="746" class="ar">←</text></g>
<g id="n14-9"><ellipse cx="500" cy="738" rx="17.5" ry="21" class="b"/><text x="500" y="746" class="ar">←</text></g>
<g id="n15-1"><ellipse cx="84" cy="790" rx="17.5" ry="21" class="p"/><text x="84" y="798" class="ar">→</text></g>
<g id="n15-2"><ellipse cx="136" cy="790" rx="17.5" ry="21" class="r"/><text x="136" y="798" class="ar aw">→</text></g>
<g id="n15-3"><ellipse cx="188" cy="790" rx="17.5" ry="21" class="p"/><text x="188" y="798" class="ar">→</text></g>
<g id="n15-4"><ellipse cx="240" cy="790" rx="17.5" ry="21" class="p"/><text x="240" y="798" class="ar">→</text></g>
<g id="n15-5"><ellipse cx="292" cy="790" rx="17.5" ry="21" class="p"/><text x="292" y="798" class="ar">→</text></g>
<g id="n15-6"><ellipse cx="344" cy="790" rx="17.5" ry="21" class="p"/><text x="344" y="798" class="ar">→</text></g>
<g id="n15-7"><ellipse cx="396" cy="790" rx="17.5" ry="21" class="p"/><text x="396" y="798" class="ar">→</text></g>
<g id="n15-8"><ellipse cx="448" cy="790" rx="17.5" ry="21" class="b"/><text x="448" y="798" class="ar">→</text></g>
<g id="n15-9"><ellipse cx="500" cy="790" rx="17.5" ry="21" class="b"/><text x="500" y="798" class="ar">→</text></g>
<g id="n16-1"><ellipse cx="84" cy="842" rx="17.5" ry="21" class="p"/><text x="84" y="850" class="ar">←</text></g>
<g id="n16-2"><ellipse cx="136" cy="842" rx="17.5" ry="21" class="p"/><text x="136" y="850" class="ar">←</text></g>
<g id="n16-3"><ellipse cx="188" cy="842" rx="17.5" ry="21" class="p"/><text x="188" y="850" class="ar">←</text></g>
<g id="n16-4"><ellipse cx="240" cy="842" rx="17.5" ry="21" class="d"/><text x="240" y="850" class="ar aw">←</text></g>
<g id="n16-5"><ellipse cx="292" cy="842" rx="17.5" ry="21" class="w"/><text x="292" y="850" class="ar">←</text></g>
<g id="n16-6"><ellipse cx="344" cy="842" rx="17.5" ry="21" class="p"/><text x="344" y="850" class="ar">←</text></g>
<g id="n16-7"><ellipse cx="396" cy="842" rx="17.5" ry="21" class="p"/><text x="396" y="850" class="ar">←</text></g>
<g id="n16-8"><ellipse cx="448" cy="842" rx="17.5" ry="21" class="b"/><text x="448" y="850" class="ar">←</text></g>
<g id="n16-9"><ellipse cx="500" cy="842" rx="17.5" ry="21" class="b"/><text x="500" y="850" class="ar">←</text></g>
<g id="n17-1"><ellipse cx="84" cy="894" rx="17.5" ry="21" class="p"/><text x="84" y="902" class="ar">→</text></g>
<g id="n17-2"><ellipse cx="136" cy="894" rx="17.5" ry="21" class="p"/><text x="136" y="902" class="ar">→</text></g>
<g id="n17-3"><ellipse cx="188" cy="894" rx="17.5" ry="21" class="p"/><text x="188" y="902" class="ar">→</text></g>
<g id="n17-4"><ellipse cx="240" cy="894" rx="17.5" ry="21" class="d"/><text x="240" y="902" class="ar aw">→</text></g>
<g id="n17-5"><ellipse cx="292" cy="894" rx="17.5" ry="21" class="d"/><text x="292" y="902" class="ar aw">→</text></g>
<g id="n17-6"><ellipse cx="344" cy="894" rx="17.5" ry="21" class="p"/><text x="344" y="902" class="ar">→</text></g>
<g id="n17-7"><ellipse cx="396" cy="894" rx="17.5" ry="21" class="p"/><text x="396" y="902" class="ar">→</text></g>
<g id="n17-8"><ellipse cx="448" cy="894" rx="17.5" ry="21" class="p"/><text x="448" y="902" class="ar">→</text></g>
<g id="n17-9"><ellipse cx="500" cy="894" rx="17.5" ry="21" class="b"/><text x="500" y="902" class="ar">→</text></g>
<g id="n18-1"><ellipse cx="84" cy="946" rx="17.5" ry="21" class="b"/><text x="84" y="954" class="ar">←</text></g>
<g id="n18-2"><ellipse cx="136" cy="946" rx="17.5" ry="21" class="p"/><text x="136" y="954" class="ar">←</text></g>
<g id="n18-3"><ellipse cx="188" cy="946" rx="17.5" ry="21" class="p"/><text x="188" y="954" class="ar">←</text></g>
<g id="n18-4"><ellipse cx="240" cy="946" rx="17.5" ry="21" class="p"/><text x="240" y="954" class="ar">←</text></g>
<g id="n18-5"><ellipse cx="292" cy="946" rx="17.5" ry="21" class="p"/><text x="292" y="954" class="ar">←</text></g>
<g id="n18-6"><ellipse cx="344" cy="946" rx="17.5" ry="21" class="p"/><text x="344" y="954" class="ar">←</text></g>
<g id="n18-7"><ellipse cx="396" cy="946" rx="17.5" ry="21" class="k"/><text x="396" y="954" class="ar">←</text></g>
<g id="n18-8"><ellipse cx="448" cy="946" rx="17.5" ry="21" class="k"/><text x="448" y="954" class="ar">←</text></g>
<g id="n18-9"><ellipse cx="500" cy="946" rx="17.5" ry="21" class="p"/><text x="500" y="954" class="ar">←</text></g>
<g id="n19-1"><ellipse cx="84" cy="998" rx="17.5" ry="21" class="b"/><text x="84" y="1006" class="ar">→</text></g>
<g id="n19-2"><ellipse cx="136" cy="998" rx="17.5" ry="21" class="b"/><text x="136" y="1006" class="ar">→</text></g>
<g id="n19-3"><ellipse cx="188" cy="998" rx="17.5" ry="21" class="b"/><text x="188" y="1006" class="ar">→</text></g>
<g id="n19-4"><ellipse cx="240" cy="998" rx="17.5" ry="21" class="b"/><text x="240" y="1006" class="ar">→</text></g>
<g id="n19-5"><ellipse cx="292" cy="998" rx="17.5" ry="21" class="p"/><text x="292" y="1006" class="ar">→</text></g>
<g id="n19-6"><ellipse cx="344" cy="998" rx="17.5" ry="21" class="p"/><text x="344" y="1006" class="ar">→</text></g>
<g id="n19-7"><ellipse cx="396" cy="998" rx="17.5" ry="21" class="k"/><text x="396" y="1006" class="ar">→</text></g>
<g id="n19-8"><ellipse cx="448" cy="998" rx="17.5" ry="21" class="k"/><text x="448" y="1006" class="ar">→</text></g>
<g id="n19-9"><ellipse cx="500" cy="998" rx="17.5" ry="21" class="p"/><text x="500" y="1006" class="ar">→</text></g>
<g id="n20-1"><ellipse cx="84" cy="1050" rx="17.5" ry="21" class="b"/><text x="84" y="1058" class="ar">←</text></g>
<g id="n20-2"><ellipse cx="136" cy="1050" rx="17.5" ry="21" class="b"/><text x="136" y="1058" class="ar">←</text></g>
<g id="n20-3"><ellipse cx="188" cy="1050" rx="17.5" ry="21" class="b"/><text x="188" y="1058" class="ar">←</text></g>
<g id="n20-4"><ellipse cx="240" cy="1050" rx="17.5" ry="21" class="b"/><text x="240" y="1058" class="ar">←</text></g>
<g id="n20-5"><ellipse cx="292" cy="1050" rx="17.5" ry="21" class="b"/><text x="292" y="1058" class="ar">←</text></g>
<g id="n20-6"><ellipse cx="344" cy="1050" rx="17.5" ry="21" class="b"/><text x="344" y="1058" class="ar">←</text></g>
<g id="n20-7"><ellipse cx="396" cy="1050" rx="17.5" ry="21" class="p"/><text x="396" y="1058" class="ar">←</text></g>
<g id="n20-8"><ellipse cx="448" cy="1050" rx="17.5" ry="21" class="p"/><text x="448" y="1058" class="ar">←</text></g>
<g id="n20-9"><ellipse cx="500" cy="1050" rx="17.5" ry="21" class="p"/><text x="500" y="1058" class="ar">←</text></g>
<g id="n21-1"><ellipse cx="84" cy="1102" rx="17.5" ry="21" class="b"/><text x="84" y="1110" class="ar">→</text></g>
<g id="n21-2"><ellipse cx="136" cy="1102" rx="17.5" ry="21" class="b"/><text x="136" y="1110" class="ar">→</text></g>
<g id="n21-3"><ellipse cx="188" cy="1102" rx="17.5" ry="21" class="b"/><text x="188" y="1110" class="ar">→</text></g>
<g id="n21-4"><ellipse cx="240" cy="1102" rx="17.5" ry="21" class="b"/><text x="240" y="1110" class="ar">→</text></g>
<g id="n21-5"><ellipse cx="292" cy="1102" rx="17.5" ry="21" class="b"/><text x="292" y="1110" class="ar">→</text></g>
<g id="n21-6"><ellipse cx="344" cy="1102" rx="17.5" ry="21" class="b"/><text x="344" y="1110" class="ar">→</text></g>
<g id="n21-7"><ellipse cx="396" cy="1102" rx="17.5" ry="21" class="b"/><text x="396" y="1110" class="ar">→</text></g>
<g id="n21-8"><ellipse cx="448" cy="1102" rx="17.5" ry="21" class="b"/><text x="448" y="1110" class="ar">→</text></g>
<g id="n21-9"><ellipse cx="500" cy="1102" rx="17.5" ry="21" class="b"/><text x="500" y="1110" class="ar">→</text></g>
<g id="n22-1"><ellipse cx="84" cy="1154" rx="17.5" ry="21" class="b"/><text x="84" y="1162" class="ar">←</text></g>
<g id="n22-2"><ellipse cx="136" cy="1154" rx="17.5" ry="21" class="b"/><text x="136" y="1162" class="ar">←</text></g>
<g id="n22-3"><ellipse cx="188" cy="1154" rx="17.5" ry="21" class="b"/><text x="188" y="1162" class="ar">←</text></g>
<g id="n22-4"><ellipse cx="240" cy="1154" rx="17.5" ry="21" class="b"/><text x="240" y="1162" class="ar">←</text></g>
<g id="n22-5"><ellipse cx="292" cy="1154" rx="17.5" ry="21" class="b"/><text x="292" y="1162" class="ar">←</text></g>
<g id="n22-6"><ellipse cx="344" cy="1154" rx="17.5" ry="21" class="b"/><text x="344" y="1162" class="ar">←</text></g>
<g id="n22-7"><ellipse cx="396" cy="1154" rx="17.5" ry="21" class="b"/><text x="396" y="1162" class="ar">←</text></g>
<g id="n22-8"><ellipse cx="448" cy="1154" rx="17.5" ry="21" class="b"/><text x="448" y="1162" class="ar">←</text></g>
<g id="n22-9"><ellipse cx="500" cy="1154" rx="17.5" ry="21" class="b"/><text x="500" y="1162" class="ar">←</text></g>
<g id="n23-1"><ellipse cx="84" cy="1206" rx="17.5" ry="21" class="b"/><text x="84" y="1214" class="ar">→</text></g>
<g id="n23-2"><ellipse cx="136" cy="1206" rx="17.5" ry="21" class="b"/><text x="136" y="1214" class="ar">→</text></g>
<g id="n23-3"><ellipse cx="188" cy="1206" rx="17.5" ry="21" class="b"/><text x="188" y="1214" class="ar">→</text></g>
<g id="n23-4"><ellipse cx="240" cy="1206" rx="17.5" ry="21" class="b"/><text x="240" y="1214" class="ar">→</text></g>
<g id="n23-5"><ellipse cx="292" cy="1206" rx="17.5" ry="21" class="b"/><text x="292" y="1214" class="ar">→</text></g>
<g id="n23-6"><ellipse cx="344" cy="1206" rx="17.5" ry="21" class="b"/><text x="344" y="1214" class="ar">→</text></g>
<g id="n23-7"><ellipse cx="396" cy="1206" rx="17.5" ry="21" class="b"/><text x="396" y="1214" class="ar">→</text></g>
<g id="n23-8"><ellipse cx="448" cy="1206" rx="17.5" ry="21" class="b"/><text x="448" y="1214" class="ar">→</text></g>
<g id="n23-9"><ellipse cx="500" cy="1206" rx="17.5" ry="21" class="b"/><text x="500" y="1214" class="ar">→</text></g>
<g id="n24-1"><ellipse cx="84" cy="1258" rx="17.5" ry="21" class="b"/><text x="84" y="1266" class="ar">←</text></g>
<g id="n24-2"><ellipse cx="136" cy="1258" rx="17.5" ry="21" class="b"/><text x="136" y="1266" class="ar">←</text></g>
<g id="n24-3"><ellipse cx="188" cy="1258" rx="17.5" ry="21" class="b"/><text x="188" y="1266" class="ar">←</text></g>
<g id="n24-4"><ellipse cx="240" cy="1258" rx="17.5" ry="21" class="b"/><text x="240" y="1266" class="ar">←</text></g>
<g id="n24-5"><ellipse cx="292" cy="1258" rx="17.5" ry="21" class="b"/><text x="292" y="1266" class="ar">←</text></g>
<g id="n24-6"><ellipse cx="344" cy="1258" rx="17.5" ry="21" class="b"/><text x="344" y="1266" class="ar">←</text></g>
<g id="n24-7"><ellipse cx="396" cy="1258" rx="17.5" ry="21" class="b"/><text x="396" y="1266" class="ar">←</text></g>
<g id="n24-8"><ellipse cx="448" cy="1258" rx="17.5" ry="21" class="b"/><text x="448" y="1266" class="ar">←</text></g>
<g id="n24-9"><ellipse cx="500" cy="1258" rx="17.5" ry="21" class="b"/><text x="500" y="1266" class="ar">←</text></g>
<g id="n25-1"><ellipse cx="84" cy="1310" rx="17.5" ry="21" class="b"/><text x="84" y="1318" class="ar">→</text></g>
<g id="n25-2"><ellipse cx="136" cy="1310" rx="17.5" ry="21" class="b"/><text x="136" y="1318" class="ar">→</text></g>
<g id="n25-3"><ellipse cx="188" cy="1310" rx="17.5" ry="21" class="b"/><text x="188" y="1318" class="ar">→</text></g>
<g id="n25-4"><ellipse cx="240" cy="1310" rx="17.5" ry="21" class="b"/><text x="240" y="1318" class="ar">→</text></g>
<g id="n25-5"><ellipse cx="292" cy="1310" rx="17.5" ry="21" class="b"/><text x="292" y="1318" class="ar">→</text></g>
<g id="n25-6"><ellipse cx="344" cy="1310" rx="17.5" ry="21" class="b"/><text x="344" y="1318" class="ar">→</text></g>
<g id="n25-7"><ellipse cx="396" cy="1310" rx="17.5" ry="21" class="b"/><text x="396" y="1318" class="ar">→</text></g>
<g id="n25-8"><ellipse cx="448" cy="1310" rx="17.5" ry="21" class="b"/><text x="448" y="1318" class="ar">→</text></g>
<g id="n25-9"><ellipse cx="500" cy="1310" rx="17.5" ry="21" class="b"/><text x="500" y="1318" class="ar">→</text></g>
<g id="n26-1"><ellipse cx="84" cy="1362" rx="17.5" ry="21" class="b"/><text x="84" y="1370" class="ar">←</text></g>
<g id="n26-2"><ellipse cx="136" cy="1362" rx="17.5" ry="21" class="b"/><text x="136" y="1370" class="ar">←</text></g>
<g id="n26-3"><ellipse cx="188" cy="1362" rx="17.5" ry="21" class="b"/><text x="188" y="1370" class="ar">←</text></g>
<g id="n26-4"><ellipse cx="240" cy="1362" rx="17.5" ry="21" class="b"/><text x="240" y="1370" class="ar">←</text></g>
<g id="n26-5"><ellipse cx="292" cy="1362" rx="17.5" ry="21" class="b"/><text x="292" y="1370" class="ar">←</text></g>
<g id="n26-6"><ellipse cx="344" cy="1362" rx="17.5" ry="21" class="b"/><text x="344" y="1370" class="ar">←</text></g>
<g id="n26-7"><ellipse cx="396" cy="1362" rx="17.5" ry="21" class="b"/><text x="396" y="1370" class="ar">←</text></g>
<g id="n26-8"><ellipse cx="448" cy="1362" rx="17.5" ry="21" class="b"/><text x="448" y="1370" class="ar">←</text></g>
<g id="n26-9"><ellipse cx="500" cy="1362" rx="17.5" ry="21" class="b"/><text x="500" y="1370" class="ar">←</text></g>
<g id="n27-1"><ellipse cx="84" cy="1414" rx="17.5" ry="21" class="b"/><text x="84" y="1422" class="ar">→</text></g>
<g id="n27-2"><ellipse cx="136" cy="1414" rx="17.5" ry="21" class="b"/><text x="136" y="1422" class="ar">→</text></g>
<g id="n27-3"><ellipse cx="188" cy="1414" rx="17.5" ry="21" class="b"/><text x="188" y="1422" class="ar">→</text></g>
<g id="n27-4"><ellipse cx="240" cy="1414" rx="17.5" ry="21" class="b"/><text x="240" y="1422" class="ar">→</text></g>
<g id="n27-5"><ellipse cx="292" cy="1414" rx="17.5" ry="21" class="b"/><text x="292" y="1422" class="ar">→</text></g>
<g id="n27-6"><ellipse cx="344" cy="1414" rx="17.5" ry="21" class="b"/><text x="344" y="1422" class="ar">→</text></g>
<g id="n27-7"><ellipse cx="396" cy="1414" rx="17.5" ry="21" class="b"/><text x="396" y="1422" class="ar">→</text></g>
<g id="n27-8"><ellipse cx="448" cy="1414" rx="17.5" ry="21" class="b"/><text x="448" y="1422" class="ar">→</text></g>
<g id="n27-9"><ellipse cx="500" cy="1414" rx="17.5" ry="21" class="b"/><text x="500" y="1422" class="ar">→</text></g>
</g>
<text x="215" y="768" class="wm" textLength="153" lengthAdjust="spacingAndGlyphs">BRACELETBOOK.COM</text>
</svg>
